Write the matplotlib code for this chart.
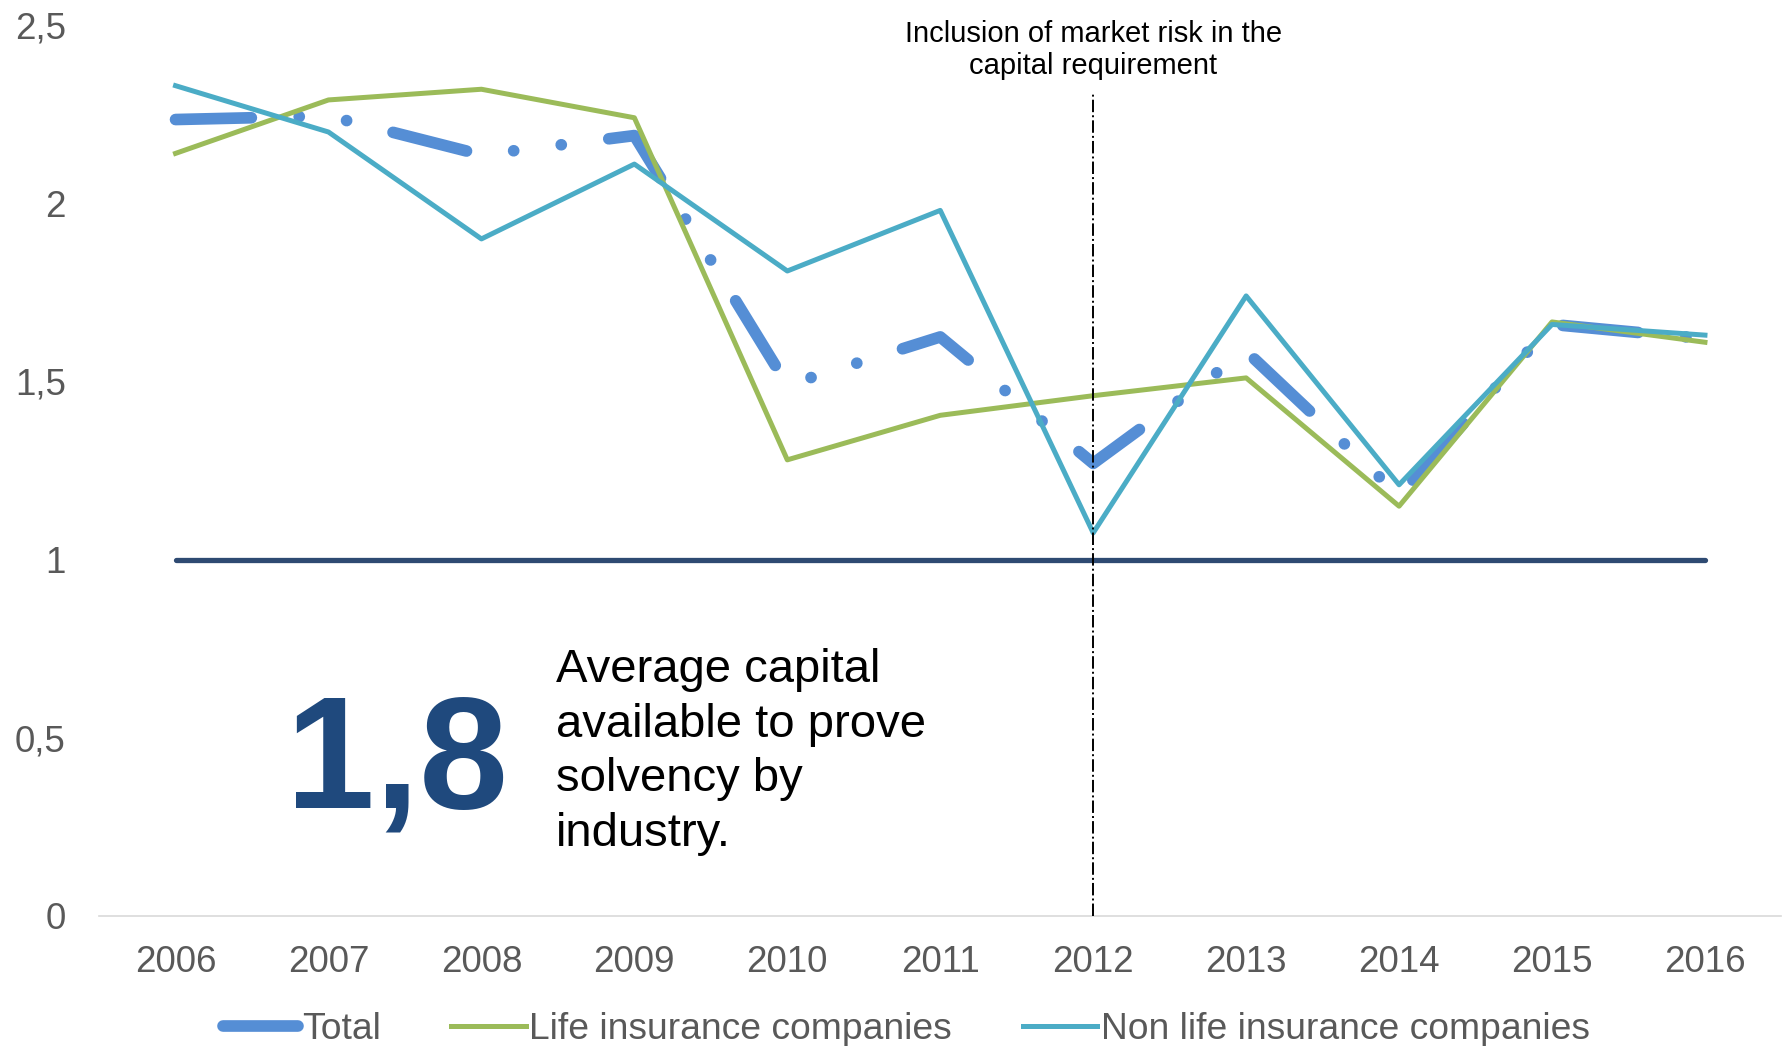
import matplotlib.pyplot as plt
from matplotlib.lines import Line2D
from matplotlib.ticker import FuncFormatter

plt.rcParams['font.family'] = ['Liberation Sans', 'DejaVu Sans']

years = [2006, 2007, 2008, 2009, 2010, 2011, 2012, 2013, 2014, 2015, 2016]
total = [2.235, 2.245, 2.136, 2.19, 1.49, 1.625, 1.27, 1.585, 1.18, 1.66, 1.62]
life = [2.14, 2.29, 2.32, 2.24, 1.28, 1.405, 1.46, 1.51, 1.15, 1.667, 1.61]
non_life = [2.33, 2.2, 1.9, 2.11, 1.81, 1.98, 1.075, 1.74, 1.21, 1.66, 1.63]
threshold = 1.0
y_ticks = [0, 0.5, 1, 1.5, 2, 2.5]

c_total = '#558ED5'
c_life = '#9BBB59'
c_nonlife = '#4BACC6'
c_navy = '#2E4A72'
c_text = '#595959'

fig = plt.figure(figsize=(17.85, 10.46), dpi=100)
ax = fig.add_axes([0.0555, 0.1243, 0.9425, 0.8517])

# long dash - dot - dot, in multiples of the line width
ax.plot(years, total, color=c_total, lw=8.4, solid_capstyle='round',
        dash_capstyle='round', linestyle=(0, (6.5, 4.1, 0.01, 4.1, 0.01, 4.1)),
        zorder=2)
ax.plot(years, life, color=c_life, lw=3.6, zorder=3)
ax.plot(years, non_life, color=c_nonlife, lw=3.6, zorder=4)
ax.plot([years[0], years[-1]], [threshold, threshold], color=c_navy, lw=3.8,
        solid_capstyle='round', zorder=5)

# regulatory change marker
ax.plot([2012, 2012], [0, 2.31], color='black', lw=1.4, linestyle='-.',
        zorder=6)
ax.text(2012, 2.43, 'Inclusion of market risk in the\ncapital requirement',
        ha='center', va='center', fontsize=21, color='black', linespacing=1.22)

ax.text(2007.45, 0.303, '1,8', ha='center', va='baseline', fontsize=115,
        fontweight='bold', color='#1F497D')
ax.text(2008.49, 0.46, 'Average capital\navailable to prove\nsolvency by\nindustry.',
        ha='left', va='center', fontsize=34, color='black', linespacing=1.31)

ax.set_xlim(2005.5, 2016.5)
ax.set_ylim(0, 2.5)
ax.set_xticks(years)
ax.set_yticks(y_ticks)
ax.yaxis.set_major_formatter(FuncFormatter(lambda v, p: f'{v:g}'.replace('.', ',')))
ax.tick_params(axis='both', length=0, labelsize=26.5, labelcolor=c_text)
ax.tick_params(axis='y', pad=24)
ax.tick_params(axis='x', pad=21)
for s in ['top', 'right', 'left']:
    ax.spines[s].set_visible(False)
ax.spines['bottom'].set_color('#D9D9D9')
ax.spines['bottom'].set_linewidth(1.2)

handles = [
    Line2D([], [], color=c_total, lw=8.4, solid_capstyle='round'),
    Line2D([], [], color=c_life, lw=3.6),
    Line2D([], [], color=c_nonlife, lw=3.6),
]
labels = ['Total', 'Life insurance companies', 'Non life insurance companies']
fig.legend(handles, labels, loc='center', bbox_to_anchor=(0.508, 0.016), ncol=3,
           frameon=False, fontsize=26.8, labelcolor=c_text, handlelength=2.0,
           handletextpad=0.1, columnspacing=1.9, borderaxespad=0)

fig.savefig('out.png', dpi=100)
